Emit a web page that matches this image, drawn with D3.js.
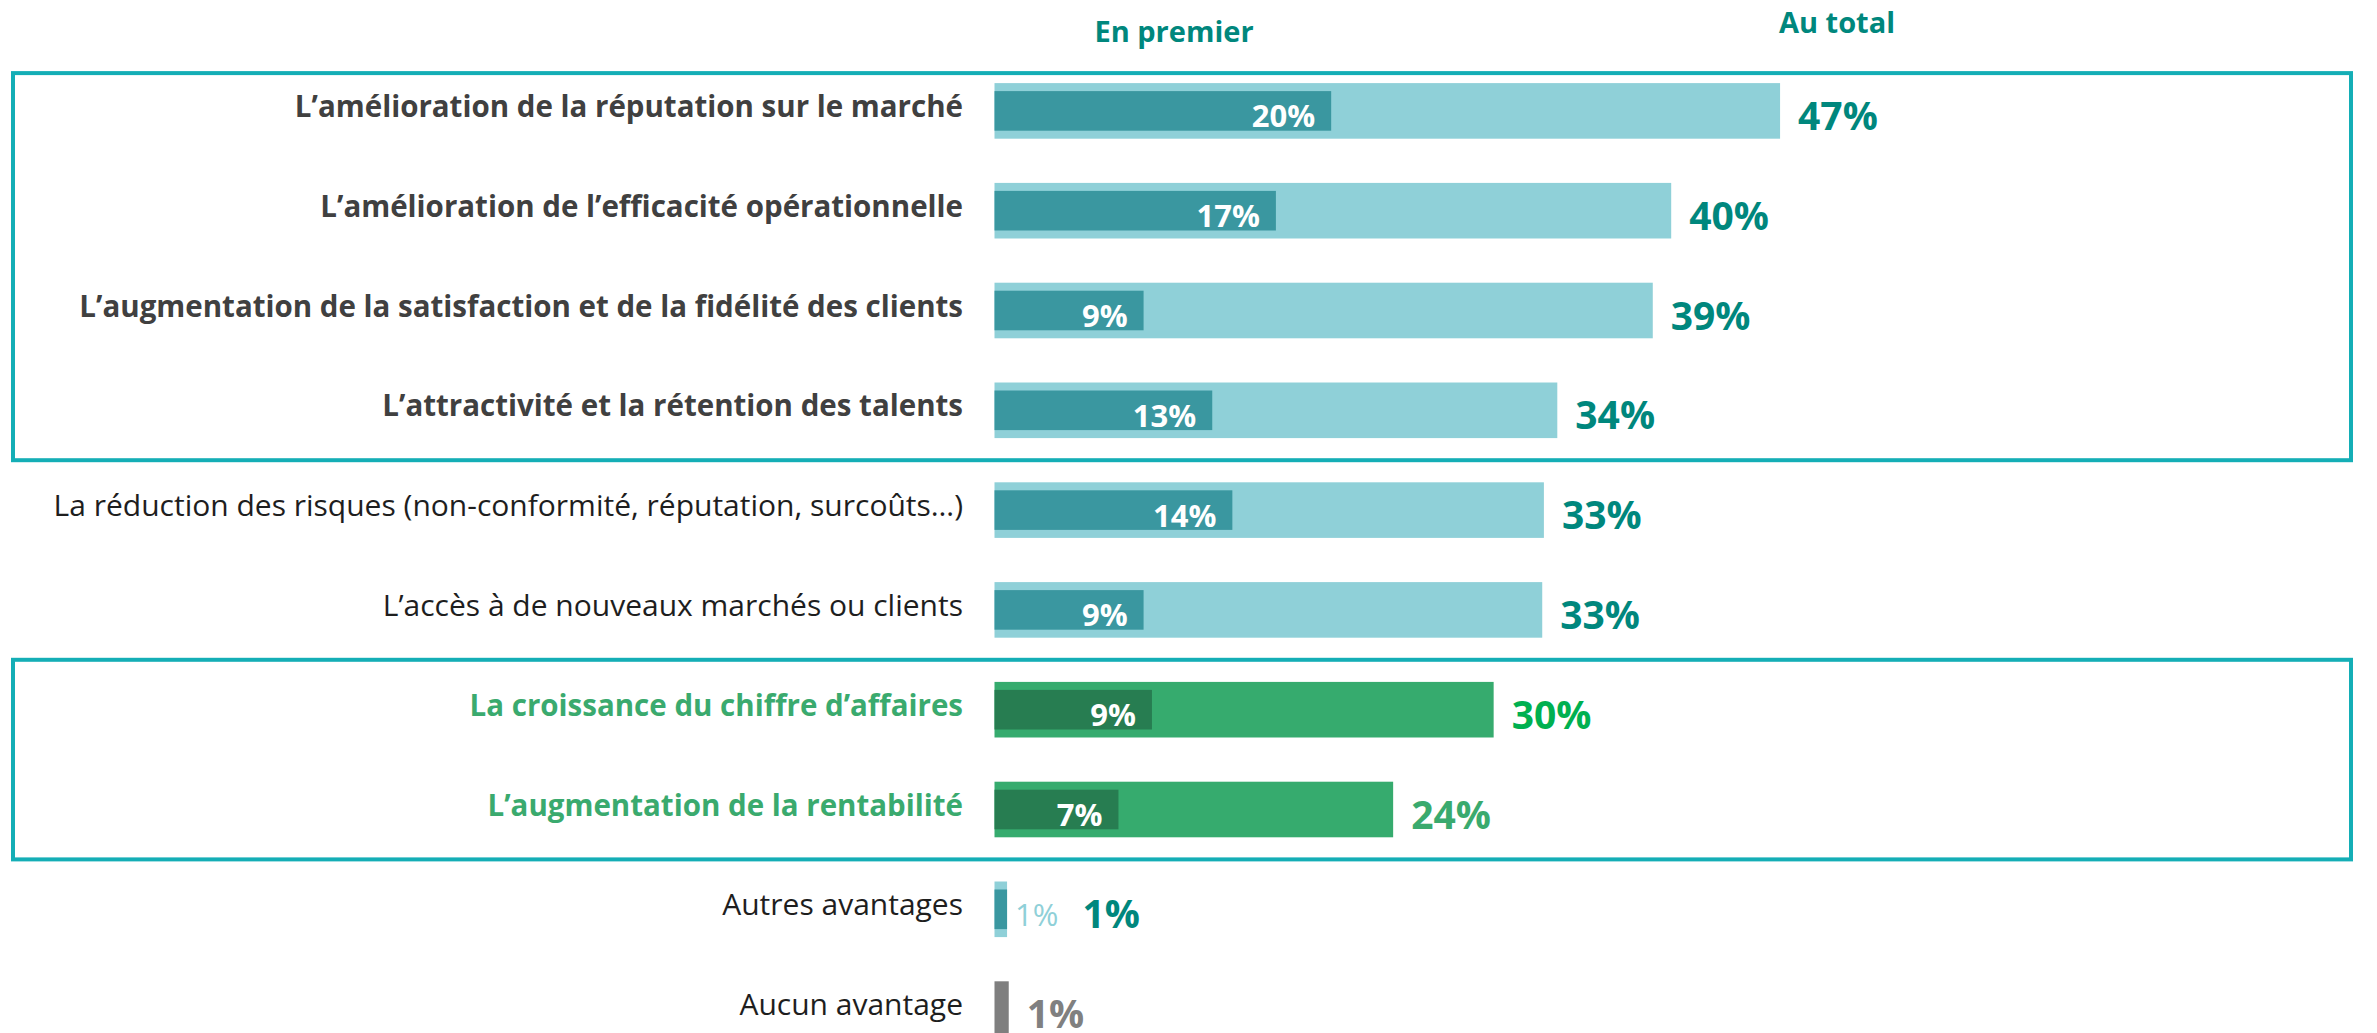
<!DOCTYPE html>
<html lang="fr">
<head>
<meta charset="utf-8" />
<script src="https://d3js.org/d3.v7.min.js"></script>
<style>
    body { margin: 0; background: #fff; }
    svg { display: block; font-family: "Open Sans", "Noto Sans", sans-serif; }
</style>
</head>
<body>
<div id="chart"></div>
<script>
    // --- données ---
    var categories = [
        "L’amélioration de la réputation sur le marché",
        "L’amélioration de l’efficacité opérationnelle",
        "L’augmentation de la satisfaction et de la fidélité des clients",
        "L’attractivité et la rétention des talents",
        "La réduction des risques (non-conformité, réputation, surcoûts…)",
        "L’accès à de nouveaux marchés ou clients",
        "La croissance du chiffre d’affaires",
        "L’augmentation de la rentabilité",
        "Autres avantages",
        "Aucun avantage"
    ];
    var enPremier = [20.1, 16.8, 8.9, 13.0, 14.2, 8.9, 9.4, 7.4, 0.75, null];
    var auTotal   = [46.9, 40.4, 39.3, 33.6, 32.8, 32.7, 29.8, 23.8, 0.75, 0.85];
    // style de chaque ligne : "cle" (encadré bleu), "std", "vert" (encadré vert), "gris"
    var rowStyle  = ["cle", "cle", "cle", "cle", "std", "std", "vert", "vert", "std", "gris"];
    var headers   = ["En premier", "Au total"];
    // encadrés : première et dernière ligne
    var boxes = [[0, 3], [6, 7]];

    var W = 2377, H = 1033;

    var colors = {
        cle:  { outer: "#8fd0d8", inner: "#3a97a0", text: "#404040", total: "#00877d", weight: 700, size: 29.5 },
        std:  { outer: "#8fd0d8", inner: "#3a97a0", text: "#1e1e1e", total: "#00877d", weight: 400, size: 30 },
        vert: { outer: "#36ab6e", inner: "#277d51", text: "#3aaa6e", total: "#3aaa6e", weight: 700, size: 29.5 },
        gris: { outer: "#7f7f7f", inner: "#7f7f7f", text: "#1e1e1e", total: "#808080", weight: 400, size: 30 }
    };
    var totalColorOverride = { 6: "#00b050" };
    var pct = function(v) { return Math.round(v) + "%"; };

    var svg = d3.select("#chart").append("svg")
        .attr("width", W).attr("height", H);

    var x = d3.scaleLinear().domain([0, 50]).range([994.5, 994.5 + 50 * 16.75]);
    var y = d3.scaleBand().domain(d3.range(categories.length))
        .range([61, 1059]).paddingInner(0.443).paddingOuter(0.2215);
    var step = y.step(), bw = y.bandwidth();
    var yc = function(i) { return y(i) + bw / 2; };
    var boxTop = function(d) { return d[0] === 0 ? y(0) - 10 : yc(d[0]) - step / 2; };

    // --- encadrés ---
    svg.append("g").selectAll("rect")
        .data(boxes)
        .enter()
        .append("rect")
        .attr("x", 13)
        .attr("y", boxTop)
        .attr("width", 2351 - 13)
        .attr("height", function(d) { return yc(d[1]) + step / 2 - boxTop(d); })
        .attr("fill", "none")
        .attr("stroke", "#14aeb6")
        .attr("stroke-width", 4);

    // --- en-têtes ---
    svg.append("text").text(headers[0])
        .attr("x", 1174).attr("y", 42)
        .attr("text-anchor", "middle")
        .attr("font-size", 29).attr("font-weight", 700)
        .attr("fill", "#00877d");
    svg.append("text").text(headers[1])
        .attr("x", 1837).attr("y", 33)
        .attr("text-anchor", "middle")
        .attr("font-size", 29).attr("font-weight", 700)
        .attr("fill", "#00877d");

    var rows = svg.append("g").selectAll("g")
        .data(categories.map(function(c, i) {
            return { cat: c, i: i, first: enPremier[i], total: auTotal[i], style: rowStyle[i] };
        }))
        .enter()
        .append("g");

    // libellés
    rows.append("text")
        .attr("x", 963)
        .attr("y", function(d) { return yc(d.i) + 6; })
        .attr("text-anchor", "end")
        .attr("font-size", function(d) { return colors[d.style].size; })
        .attr("font-weight", function(d) { return colors[d.style].weight; })
        .attr("fill", function(d) { return colors[d.style].text; })
        .text(function(d) { return d.cat; });

    // barre "au total"
    rows.append("rect")
        .attr("x", x(0))
        .attr("y", function(d) { return y(d.i); })
        .attr("width", function(d) { return x(d.total) - x(0); })
        .attr("height", bw)
        .attr("fill", function(d) { return colors[d.style].outer; });

    // barre "en premier"
    rows.filter(function(d) { return d.first != null; })
        .append("rect")
        .attr("x", x(0))
        .attr("y", function(d) { return y(d.i) + 8; })
        .attr("width", function(d) { return x(d.first) - x(0); })
        .attr("height", bw - 16)
        .attr("fill", function(d) { return colors[d.style].inner; });

    // étiquettes "en premier"
    rows.filter(function(d) { return d.first != null; })
        .append("text")
        .attr("y", function(d) { return yc(d.i) + 16.5; })
        .attr("font-size", 31)
        .attr("font-weight", 700)
        .text(function(d) { return pct(d.first); })
        .each(function(d) {
            var t = d3.select(this);
            var len = this.getComputedTextLength();
            var end = x(d.first);
            if (len + 24 < end - x(0)) {
                t.attr("x", end - 16).attr("text-anchor", "end").attr("fill", "#fff");
                d.labelEnd = null;
            } else {
                // barre trop courte : étiquette à l'extérieur
                t.attr("x", end + 8).attr("text-anchor", "start")
                 .attr("fill", colors[d.style].outer).attr("font-weight", 400);
                d.labelEnd = end + 8 + this.getComputedTextLength();
            }
        });

    // étiquettes "au total"
    rows.append("text")
        .attr("x", function(d) {
            return d.labelEnd ? d.labelEnd + 24 : x(d.total) + 18;
        })
        .attr("y", function(d) { return yc(d.i) + 19; })
        .attr("font-size", 39)
        .attr("font-weight", 700)
        .attr("fill", function(d) { return totalColorOverride[d.i] || colors[d.style].total; })
        .text(function(d) { return pct(d.total); });
</script>
</body>
</html>
